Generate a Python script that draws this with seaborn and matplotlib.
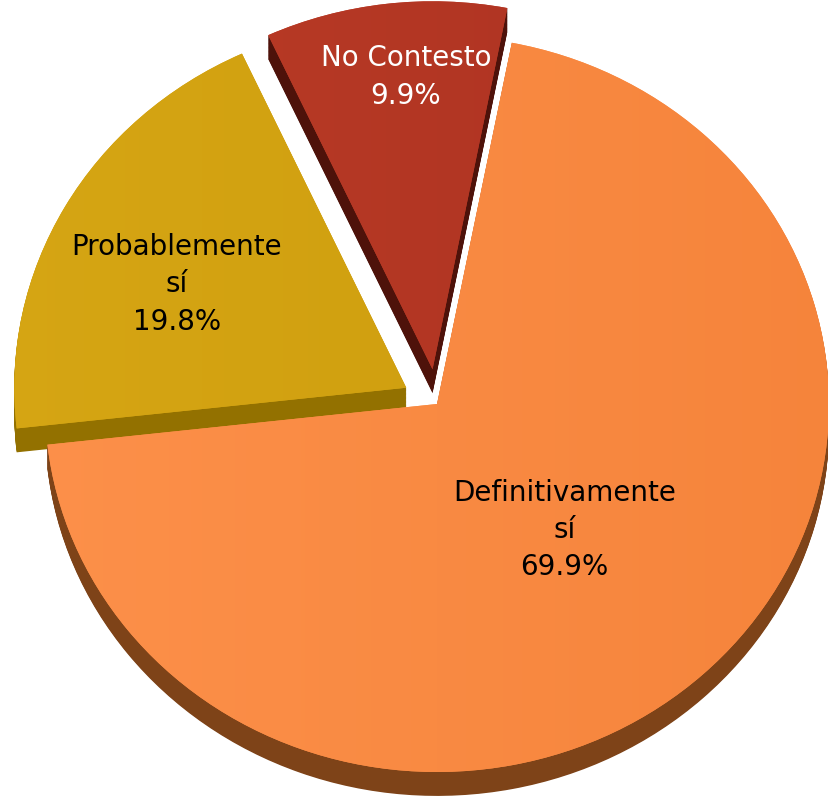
import numpy as np
import seaborn as sns
import matplotlib.pyplot as plt
from matplotlib.colors import LinearSegmentedColormap

sns.set_style("white")
plt.rcParams['font.family'] = ['DejaVu Sans']

# data
labels = ["Definitivamente\nsí", "Probablemente\nsí", "No Contesto"]
values = [69.9, 19.8, 9.9]
top_colors = [("#FD914B", "#F5833A"), ("#D6A614", "#CB9A0C"), ("#BC3D27", "#AA3020")]
side_colors = ["#7E4318", "#937100", "#4E120A"]
explode = [0.0, 0.09, 0.095]
text_colors = ["black", "black", "white"]
label_dist = [0.47, 0.65, 0.80]
label_turn = [1.0, 3.6, -2.0]

fig = plt.figure(figsize=(8.29, 8.12), dpi=100)
ax = fig.add_axes([0, 0, 1, 1])

depth = 0.065
n_layers = 30
# side walls: stack of darker pies shifted down
for k in range(n_layers, 0, -1):
    off = depth * k / n_layers
    ax.pie(values, colors=side_colors, explode=explode, startangle=79,
           counterclock=False, center=(0, -off),
           wedgeprops=dict(linewidth=0, antialiased=True))

# top faces
wedges, _ = ax.pie(values, colors=[c[0] for c in top_colors], explode=explode,
                   startangle=79, counterclock=False,
                   wedgeprops=dict(linewidth=0))

# subtle horizontal gradient on each top face
grad = np.linspace(0, 1, 256).reshape(1, -1)
for w, (c1, c2) in zip(wedges, top_colors):
    cmap = LinearSegmentedColormap.from_list("g", [c1, c2])
    im = ax.imshow(grad, cmap=cmap, extent=(-1.2, 1.2, -1.2, 1.2),
                   aspect='auto', zorder=w.get_zorder() + 0.1)
    im.set_clip_path(w)

# labels
for w, lab, v, d, t, tc in zip(wedges, labels, values, label_dist, label_turn, text_colors):
    ang = np.deg2rad((w.theta1 + w.theta2) / 2 + t)
    cx, cy = w.center
    ax.text(cx + d * np.cos(ang), cy + d * np.sin(ang), f"{lab}\n{v}%",
            ha="center", va="center", fontsize=20, color=tc,
            linespacing=1.42, zorder=10)

ax.set_aspect('auto')
ax.set_xlim(-437 / 392, 392 / 392)
ax.set_ylim((405 - 812) / 368, 405 / 368)
ax.axis('off')

plt.savefig("out.png", dpi=100)
